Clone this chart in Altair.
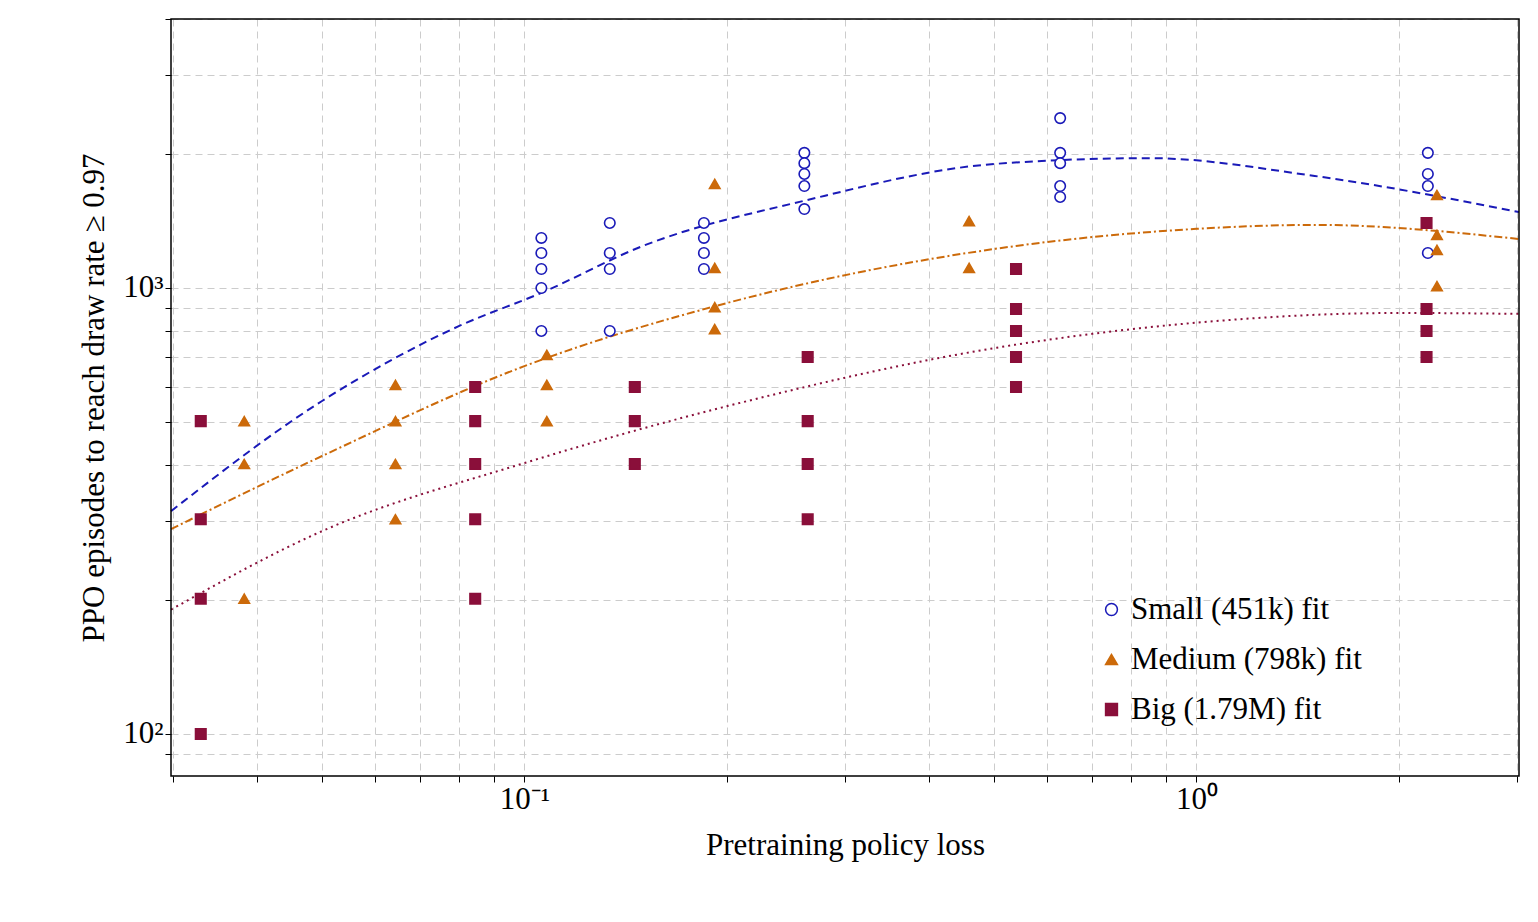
import altair as alt
import pandas as pd

BLUE, ORANGE, PURPLE = "#1a1ab8", "#cc6a0a", "#8a0f3a"
SER = ["Small (451k) fit", "Medium (798k) fit", "Big (1.79M) fit"]

small_x = [0.106]*5 + [0.134]*4 + [0.185]*4 + [0.261]*5 + [0.627]*5 + [2.21]*4
small_y = [1295,1198,1103,1000,801, 1399,1198,1103,801, 1399,1295,1198,1103,
           2009,1905,1802,1693,1503, 2404,2009,1905,1693,1600, 2009,1802,1693,1198]
med_x = [0.0383]*3 + [0.0643]*4 + [0.108]*3 + [0.192]*4 + [0.459]*2 + [2.28]*4
med_y = [503,403,201, 606,503,403,303, 708,606,503, 1712,1109,906,809, 1413,1109, 1616,1315,1217,1010]
big_x = [0.033]*4 + [0.0845]*5 + [0.146]*3 + [0.264]*4 + [0.539]*5 + [2.20]*4
big_y = [503,303,201,100, 600,503,403,303,201, 600,503,403, 700,503,403,303,
         1103,897,801,700,600, 1399,897,801,700]

fit_small_x = [0.0298,0.05,0.08,0.106,0.15,0.26,0.5,0.85,1.5,3.02]
fit_small_y = [316,558,822,975,1242,1567,1897,1955,1783,1480]
fit_med_x = [0.0298,0.05,0.1,0.2,0.5,1.0,1.5,3.02]
fit_med_y = [288,420,668,925,1223,1357,1385,1288]
fit_big_x = [0.0298,0.05,0.1,0.2,0.5,1.0,2.0,3.02]
fit_big_y = [190,285,405,543,733,836,879,875]

pts = pd.concat([
    pd.DataFrame({"x": small_x, "y": small_y, "s": SER[0]}),
    pd.DataFrame({"x": med_x, "y": med_y, "s": SER[1]}),
    pd.DataFrame({"x": big_x, "y": big_y, "s": SER[2]}),
])

XD = [0.0298, 3.02]
YD = [80.5, 4010]
xvals = [0.03,0.04,0.05,0.06,0.07,0.08,0.09,0.1,0.2,0.3,0.4,0.5,0.6,0.7,0.8,0.9,1,2,3]
yvals = [90,100,200,300,400,500,600,700,800,900,1000,2000,3000,4000]
FONT = "Liberation Serif"

xs = alt.Scale(type="log", domain=XD, nice=False)
ys = alt.Scale(type="log", domain=YD, nice=False)
common = dict(gridDash=[7, 5], gridColor="#cccccc", tickColor="black", domain=False,
              labelFontSize=31, titleFontSize=31, titleFontWeight="normal")
xax = alt.Axis(values=xvals, title="Pretraining policy loss", titlePadding=16,
               labelExpr="datum.value == 0.1 ? '10⁻¹' : datum.value == 1 ? '10⁰' : ''", **common)
yax = alt.Axis(values=yvals, title="PPO episodes to reach draw rate ≥ 0.97", titlePadding=12,
               labelExpr="datum.value == 100 ? '10²' : datum.value == 1000 ? '10³' : ''", **common)

points = alt.Chart(pts).mark_point(size=110, strokeWidth=1.6, opacity=1).encode(
    x=alt.X("x:Q", scale=xs, axis=xax),
    y=alt.Y("y:Q", scale=ys, axis=yax),
    shape=alt.Shape("s:N", scale=alt.Scale(domain=SER, range=["circle", "triangle-up", "square"]), title=None),
    stroke=alt.Stroke("s:N", scale=alt.Scale(domain=SER, range=[BLUE, ORANGE, PURPLE]), title=None),
    fill=alt.Fill("s:N", scale=alt.Scale(domain=SER, range=["white", ORANGE, PURPLE]), title=None),
)

def fit(xv, yv, color, dash):
    df = pd.DataFrame({"x": xv, "y": yv})
    return alt.Chart(df).mark_line(color=color, strokeDash=dash, strokeWidth=2, interpolate="monotone").encode(
        x=alt.X("x:Q", scale=xs), y=alt.Y("y:Q", scale=ys))

lines = [fit(fit_small_x, fit_small_y, BLUE, [8, 5]),
         fit(fit_med_x, fit_med_y, ORANGE, [8, 3, 2, 3]),
         fit(fit_big_x, fit_big_y, PURPLE, [2, 4])]

frame = alt.Chart(pd.DataFrame({"x": [1]})).mark_rect(fill=None, stroke="black", strokeWidth=1.5).encode(
    x=alt.value(0), x2=alt.value(1348), y=alt.value(0), y2=alt.value(757))

chart = alt.layer(*lines, points, frame).properties(
    width=1348, height=757, padding={"left": 70, "top": 10, "right": 5, "bottom": 5}).configure(
    font=FONT).configure_axis(labelFont=FONT, titleFont=FONT, labelColor="black", titleColor="black",
                              tickSize=6).configure_legend(
    orient="none", legendX=925, legendY=575, labelFontSize=31, labelFont=FONT, symbolSize=140,
    rowPadding=18, labelLimit=500, labelColor="black").configure_view(stroke=None)

chart.save("out.html", embed_options={"renderer": "svg", "actions": False})
